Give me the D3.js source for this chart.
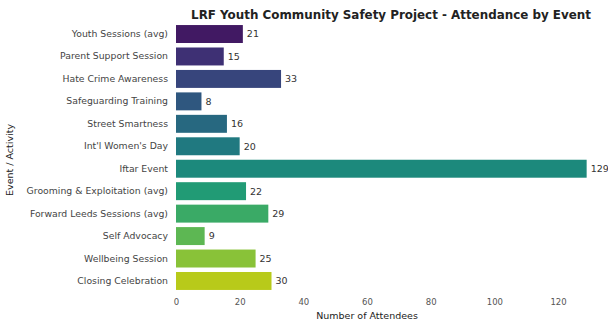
<!DOCTYPE html>
<html><head><meta charset="utf-8">
<script src="https://cdn.jsdelivr.net/npm/d3@7"></script>
<style>body{margin:0;background:#fff}svg{display:block}text{font-family:"DejaVu Sans",sans-serif}</style>
</head><body><svg id="c" width="608" height="320"></svg>
<script>
const categories = ["Youth Sessions (avg)","Parent Support Session","Hate Crime Awareness","Safeguarding Training","Street Smartness","Int'l Women's Day","Iftar Event","Grooming & Exploitation (avg)","Forward Leeds Sessions (avg)","Self Advocacy","Wellbeing Session","Closing Celebration"];
const values = [21,15,33,8,16,20,129,22,29,9,25,30];
const xTicks = [0,20,40,60,80,100,120];
const title = "LRF Youth Community Safety Project - Attendance by Event";
const xLabel = "Number of Attendees";
const yLabel = "Event / Activity";

const svg = d3.select("#c");
const x = d3.scaleLinear().domain([0,120]).range([176,558]);
const y = d3.scaleBand().domain(categories).range([22.8,292.2]).paddingInner(0.2).paddingOuter(0.1);
const colors = categories.map((d,i)=>d3.color(d3.interpolateViridis((i+1)/(categories.length+1))).darker(0.3).formatHex());

svg.append("g").selectAll("rect").data(values).join("rect")
  .attr("x", x(0)).attr("y",(d,i)=>y(categories[i]))
  .attr("width",d=>x(d)-x(0)).attr("height",y.bandwidth())
  .attr("fill",(d,i)=>colors[i]);

svg.append("g").selectAll("text").data(values).join("text")
  .attr("x",d=>x(d)+4).attr("y",(d,i)=>y(categories[i])+y.bandwidth()/2)
  .attr("dy","0.35em").attr("font-size",9.5).attr("fill","#333").text(d=>d);

const yAxis = svg.append("g").attr("transform",`translate(${x(0)},0)`)
  .call(d3.axisLeft(y).tickSize(0).tickPadding(8));
yAxis.select(".domain").remove();
yAxis.selectAll("text").attr("font-size",9.3).attr("fill","#444").style("font-family","DejaVu Sans");

const xAxis = svg.append("g").attr("transform",`translate(0,${292})`)
  .call(d3.axisBottom(x).tickValues(xTicks).tickSize(0).tickPadding(7));
xAxis.select(".domain").remove();
xAxis.selectAll("text").attr("font-size",8.5).attr("fill","#555").style("font-family","DejaVu Sans");

svg.append("text").attr("x",367).attr("y",319).attr("text-anchor","middle")
  .attr("font-size",9.5).attr("fill","#222").text(xLabel);
svg.append("text").attr("x",391).attr("y",19).attr("text-anchor","middle")
  .attr("font-size",11.9).attr("font-weight","bold").attr("fill","#222").text(title);
svg.append("text").attr("transform","translate(13,160) rotate(-90)").attr("text-anchor","middle")
  .attr("font-size",9.5).attr("fill","#222").text(yLabel);
</script></body></html>
